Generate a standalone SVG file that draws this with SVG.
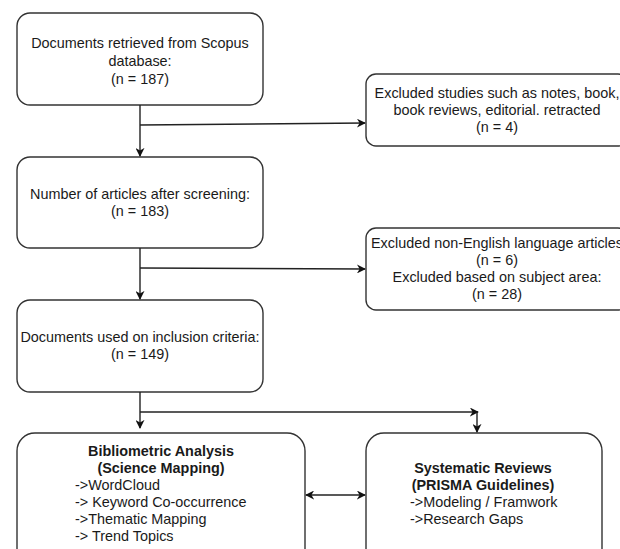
<svg xmlns="http://www.w3.org/2000/svg" width="620" height="549" viewBox="0 0 620 549">
  <defs>
    <marker id="arr" viewBox="0 0 10 10" refX="9" refY="5" markerWidth="9" markerHeight="9" markerUnits="userSpaceOnUse" orient="auto-start-reverse">
      <path d="M0,0 L10,5 L0,10 L3,5 z" fill="#111"/>
    </marker>
  </defs>
  <style>
    .box { fill: #fff; stroke: #333; stroke-width: 1.4; }
    .t { font-family: "Liberation Sans", Arial, sans-serif; font-size: 14.4px; fill: #1a1a1a; }
    .c { text-anchor: middle; }
    .b { font-weight: bold; }
    .ln { stroke: #222; stroke-width: 1.4; fill: none; }
  </style>
  <rect x="0" y="0" width="620" height="549" fill="#fff"/>

  <g id="n1">
    <rect class="box" x="17" y="13" width="246" height="92" rx="13"/>
    <text class="t c" x="140" y="48">Documents retrieved from Scopus</text>
    <text class="t c" x="140" y="66">database:</text>
    <text class="t c" x="140" y="84">(n = 187)</text>
  </g>
  <g id="n2">
    <rect class="box" x="366" y="74" width="262" height="72" rx="10"/>
    <text class="t c" x="497" y="98">Excluded studies such as notes, book,</text>
    <text class="t c" x="497" y="115">book reviews, editorial. retracted</text>
    <text class="t c" x="497" y="132">(n = 4)</text>
  </g>
  <g id="n3">
    <rect class="box" x="17" y="157" width="246" height="91" rx="13"/>
    <text class="t c" x="140" y="199">Number of articles after screening:</text>
    <text class="t c" x="140" y="216">(n = 183)</text>
  </g>
  <g id="n4">
    <rect class="box" x="366" y="228" width="262" height="82" rx="10"/>
    <text class="t c" x="497" y="248">Excluded non-English language articles</text>
    <text class="t c" x="497" y="265">(n = 6)</text>
    <text class="t c" x="497" y="282">Excluded based on subject area:</text>
    <text class="t c" x="497" y="299">(n = 28)</text>
  </g>
  <g id="n5">
    <rect class="box" x="17" y="300" width="246" height="92" rx="13"/>
    <text class="t c" x="140" y="342">Documents used on inclusion criteria:</text>
    <text class="t c" x="140" y="359">(n = 149)</text>
  </g>
  <g id="n6">
    <rect class="box" x="17" y="433" width="288" height="140" rx="18"/>
    <text class="t c b" x="161" y="456">Bibliometric Analysis</text>
    <text class="t c b" x="161" y="473">(Science Mapping)</text>
    <text class="t" x="75" y="490">-&gt;WordCloud</text>
    <text class="t" x="75" y="507">-&gt; Keyword Co-occurrence</text>
    <text class="t" x="75" y="524">-&gt;Thematic Mapping</text>
    <text class="t" x="75" y="541">-&gt; Trend Topics</text>
  </g>
  <g id="n7">
    <rect class="box" x="366" y="433" width="236" height="140" rx="18"/>
    <text class="t c b" x="483" y="473">Systematic Reviews</text>
    <text class="t c b" x="483" y="490">(PRISMA Guidelines)</text>
    <text class="t" x="410" y="507">-&gt;Modeling / Framwork</text>
    <text class="t" x="410" y="524">-&gt;Research Gaps</text>
  </g>

  <g id="connectors">
    <path class="ln" d="M140,105 L140,156" marker-end="url(#arr)"/>
    <path class="ln" d="M140,125 L365,123" marker-end="url(#arr)"/>
    <path class="ln" d="M140,248 L140,299" marker-end="url(#arr)"/>
    <path class="ln" d="M140,268 L365,269" marker-end="url(#arr)"/>
    <path class="ln" d="M140,392 L140,428" marker-end="url(#arr)"/>
    <path class="ln" d="M140,412 L478,412" marker-end="url(#arr)"/>
    <path class="ln" d="M477,412 L477,432" marker-end="url(#arr)"/>
    <path class="ln" d="M306,495 L365,495" marker-start="url(#arr)" marker-end="url(#arr)"/>
  </g>
</svg>
